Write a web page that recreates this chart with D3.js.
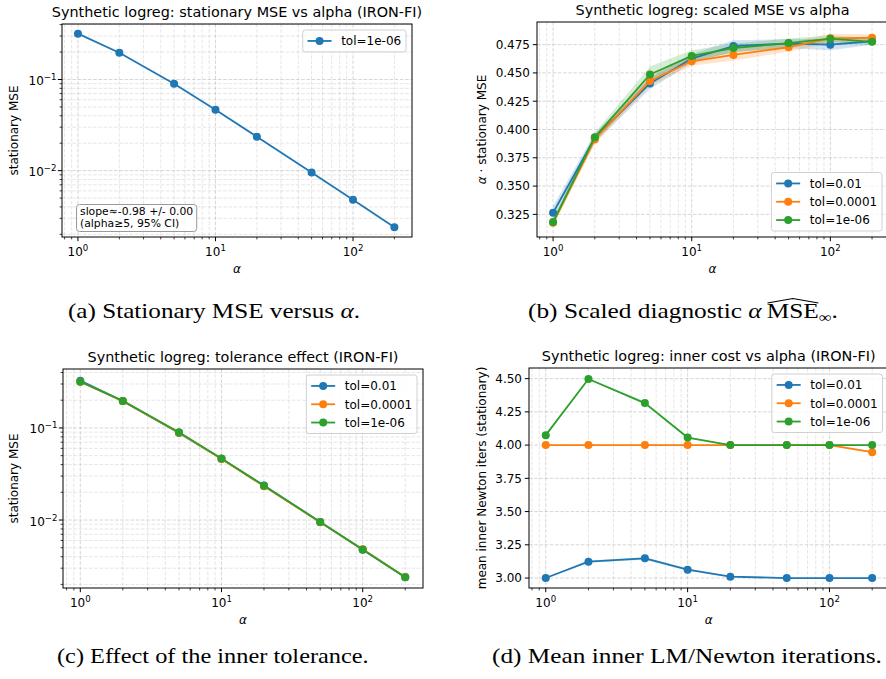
<!DOCTYPE html>
<html><head><meta charset="utf-8">
<script src="https://cdn.jsdelivr.net/npm/d3@7"></script>
<style>body{margin:0;background:#fff} svg{display:block} text{font-family:"DejaVu Sans",sans-serif;fill:#000} text.cap{font-family:"Liberation Serif","DejaVu Serif",serif}</style>
</head><body><svg id="c" width="886" height="679"></svg>
<script>
// ---------------- data ----------------
const alphas = [1, 2, 5, 10, 20, 50, 100, 200];
const tolLabels = ["tol=0.01", "tol=0.0001", "tol=1e-06"];
const colors = ["#1f77b4", "#ff7f0e", "#2ca02c"];

// (a) stationary MSE, tol=1e-06
const mseA = [0.3182, 0.1966, 0.0897, 0.0465, 0.0236, 0.00953, 0.00480, 0.00239];
const slopeText = ["slope\u2248-0.98 +/- 0.00", "(alpha\u22655, 95% CI)"];

// (b) alpha * stationary MSE, with CI half-widths
const scaled01  = [0.3264, 0.3926, 0.4407, 0.4627, 0.4738, 0.4759, 0.4750, 0.4780];
const scaled1e4 = [0.3176, 0.3912, 0.4429, 0.4603, 0.4659, 0.4727, 0.4806, 0.4811];
const scaled1e6 = [0.3182, 0.3932, 0.4486, 0.4650, 0.4720, 0.4764, 0.4803, 0.4775];
const ci01  = [0.006, 0.004, 0.005, 0.004, 0.005, 0.004, 0.005, 0.003];
const ci1e4 = [0.003, 0.004, 0.004, 0.004, 0.005, 0.004, 0.004, 0.003];
const ci1e6 = [0.003, 0.004, 0.007, 0.005, 0.004, 0.004, 0.003, 0.003];

// (c) stationary MSE per tolerance
const mse01  = [0.3264, 0.1963, 0.0881, 0.0463, 0.0237, 0.00952, 0.00475, 0.00239];
const mse1e4 = [0.3176, 0.1956, 0.0886, 0.0460, 0.0233, 0.00945, 0.00481, 0.00241];
const mse1e6 = [0.3182, 0.1966, 0.0897, 0.0465, 0.0236, 0.00953, 0.00480, 0.00239];

// (d) mean inner Newton iterations
const iters01  = [3.000, 3.123, 3.148, 3.063, 3.010, 3.000, 3.000, 3.000];
const iters1e4 = [4.000, 4.000, 4.000, 4.000, 4.000, 4.000, 4.000, 3.947];
const iters1e6 = [4.075, 4.497, 4.316, 4.057, 4.000, 4.000, 4.000, 4.000];
const iterCi01  = [0.000, 0.008, 0.010, 0.008, 0.004, 0.000, 0.000, 0.000];
const iterCi1e4 = [0.000, 0.000, 0.000, 0.000, 0.000, 0.000, 0.004, 0.008];
const iterCi1e6 = [0.006, 0.006, 0.012, 0.008, 0.003, 0.003, 0.003, 0.003];

const xMajorTicks = [1, 10, 100];
const yTicksB = [0.325, 0.350, 0.375, 0.400, 0.425, 0.450, 0.475];
const yTicksD = [3.00, 3.25, 3.50, 3.75, 4.00, 4.25, 4.50];
const yLogMajor = [0.1, 0.01];

// ---------------- drawing ----------------
const svg = d3.select("#c");
const FS = 12;

function logLabel(sel, exp, anchor, x, y) {
  const t = sel.append("text").attr("x", x).attr("y", y).attr("text-anchor", anchor).attr("font-size", FS);
  t.append("tspan").text("10");
  t.append("tspan").attr("dy", -5).attr("font-size", 8.6).text(exp < 0 ? "\u2212" + (-exp) : String(exp));
  return t;
}

function drawPanel(P) {
  const { l, t, r, b } = P.box;
  const g = svg.append("g");
  const x = d3.scaleLog().domain(P.xdom).range([l, r]);
  const y = P.ylog ? d3.scaleLog().domain(P.ydom).range([b, t]) : d3.scaleLinear().domain(P.ydom).range([b, t]);
  const cid = "clip" + P.id;
  svg.append("clipPath").attr("id", cid).append("rect").attr("x", l).attr("y", t).attr("width", r - l).attr("height", b - t);

  const inX = v => v >= P.xdom[0] && v <= P.xdom[1];
  const yLo = Math.min(P.ydom[0], P.ydom[1]), yHi = Math.max(P.ydom[0], P.ydom[1]);
  const inY = v => v >= yLo && v <= yHi;
  const xMinor = [];
  for (let e = -1; e <= 2; e++) for (let m = 2; m <= 9; m++) { const v = +(m * Math.pow(10, e)).toPrecision(3); if (inX(v)) xMinor.push(v); }
  const yMinor = [];
  if (P.ylog) for (let e = -4; e <= 0; e++) for (let m = 2; m <= 9; m++) { const v = +(m * Math.pow(10, e)).toPrecision(3); if (inY(v)) yMinor.push(v); }
  const yMajor = P.yticks.filter(inY);

  // grid
  const gg = g.append("g").attr("clip-path", `url(#${cid})`).attr("fill", "none").attr("stroke", "#b0b0b0").attr("stroke-dasharray", "3.6,1.6");
  gg.selectAll(".vm").data(xMinor).join("line").attr("x1", d => x(d)).attr("x2", d => x(d)).attr("y1", t).attr("y2", b).attr("stroke-width", 0.8).attr("stroke-opacity", 0.4);
  gg.selectAll(".hm").data(yMinor).join("line").attr("y1", d => y(d)).attr("y2", d => y(d)).attr("x1", l).attr("x2", r).attr("stroke-width", 0.8).attr("stroke-opacity", 0.4);
  gg.selectAll(".vM").data(xMajorTicks.filter(inX)).join("line").attr("x1", d => x(d)).attr("x2", d => x(d)).attr("y1", t).attr("y2", b).attr("stroke-width", 1).attr("stroke-opacity", 0.5);
  gg.selectAll(".hM").data(yMajor).join("line").attr("y1", d => y(d)).attr("y2", d => y(d)).attr("x1", l).attr("x2", r).attr("stroke-width", 1).attr("stroke-opacity", 0.5);

  // data
  const dg = g.append("g").attr("clip-path", `url(#${cid})`);
  P.series.forEach(s => {
    if (s.ci) {
      const area = d3.area().x((d, i) => x(alphas[i])).y0((d, i) => y(d - s.ci[i])).y1((d, i) => y(d + s.ci[i]));
      dg.append("path").datum(s.vals).attr("d", area).attr("fill", s.color).attr("fill-opacity", 0.2);
    }
  });
  P.series.forEach(s => {
    const line = d3.line().x((d, i) => x(alphas[i])).y(d => y(d));
    dg.append("path").datum(s.vals).attr("d", line).attr("fill", "none").attr("stroke", s.color).attr("stroke-width", 1.8).attr("stroke-linejoin", "round");
    dg.selectAll(null).data(s.vals).join("circle").attr("cx", (d, i) => x(alphas[i])).attr("cy", d => y(d)).attr("r", 4).attr("fill", s.color);
  });

  // spines
  g.append("rect").attr("x", l).attr("y", t).attr("width", r - l).attr("height", b - t).attr("fill", "none").attr("stroke", "#000").attr("stroke-width", 1);

  // ticks
  const tg = g.append("g").attr("stroke", "#000");
  tg.selectAll(".xM").data(xMajorTicks.filter(inX)).join("line").attr("x1", d => x(d)).attr("x2", d => x(d)).attr("y1", b).attr("y2", b + 4.2).attr("stroke-width", 1);
  tg.selectAll(".xm").data(xMinor).join("line").attr("x1", d => x(d)).attr("x2", d => x(d)).attr("y1", b).attr("y2", b + 2.4).attr("stroke-width", 0.75);
  tg.selectAll(".yM").data(yMajor).join("line").attr("y1", d => y(d)).attr("y2", d => y(d)).attr("x1", l - 4.2).attr("x2", l).attr("stroke-width", 1);
  tg.selectAll(".ym").data(yMinor).join("line").attr("y1", d => y(d)).attr("y2", d => y(d)).attr("x1", l - 2.4).attr("x2", l).attr("stroke-width", 0.75);

  // tick labels
  xMajorTicks.filter(inX).forEach(v => logLabel(g, Math.round(Math.log10(v)), "middle", x(v), b + 19));
  yMajor.forEach(v => {
    if (P.ylog) logLabel(g, Math.round(Math.log10(v)), "end", l - 5.5, y(v) + 5.5);
    else g.append("text").attr("x", l - 7).attr("y", y(v) + 4.3).attr("text-anchor", "end").attr("font-size", FS).text(v.toFixed(P.yfmt));
  });

  // title & labels
  g.append("text").attr("x", (l + r) / 2).attr("y", t - 7).attr("text-anchor", "middle").attr("font-size", 14.4).text(P.title);
  g.append("text").attr("x", (l + r) / 2).attr("y", b + 36).attr("text-anchor", "middle").attr("font-size", FS).attr("font-style", "italic").text("\u03b1");
  const yl = g.append("text").attr("transform", `translate(${P.ylabX},${(t + b) / 2}) rotate(-90)`).attr("text-anchor", "middle").attr("dy", "0.35em").attr("font-size", FS);
  if (P.ylabAlpha) { yl.append("tspan").attr("font-style", "italic").text("\u03b1"); yl.append("tspan").text(" \u00b7 "); }
  yl.append("tspan").text(P.ylabel);

  // legend
  const n = P.series.length;
  const lh = 9.6 + n * 12.3 + (n - 1) * 6;
  const lgTop = P.legend === "lower right" ? b - 6 - lh : t + 6;
  const lg = g.append("g");
  const frame = lg.append("rect");
  let maxW = 0;
  const tmp = [];
  P.series.forEach((s, i) => {
    const cy = lgTop + 4.8 + 6.15 + i * 18.3;
    tmp.push({ s, cy });
  });
  const texts = tmp.map(o => {
    const tx = lg.append("text").attr("y", o.cy + 4.3).attr("font-size", FS).text(o.s.label);
    maxW = Math.max(maxW, tx.node().getComputedTextLength());
    return tx;
  });
  const lw = 4.8 + 24 + 9.6 + maxW + 4.8;
  const lgL = r - 6 - lw;
  frame.attr("x", lgL).attr("y", lgTop).attr("width", lw).attr("height", lh).attr("rx", 2.5)
    .attr("fill", "#fff").attr("fill-opacity", 0.8).attr("stroke", "#d0d0d0").attr("stroke-width", 1);
  texts.forEach(tx => tx.attr("x", lgL + 4.8 + 24 + 9.6));
  tmp.forEach(o => {
    lg.append("line").attr("x1", lgL + 4.8).attr("x2", lgL + 28.8).attr("y1", o.cy).attr("y2", o.cy).attr("stroke", o.s.color).attr("stroke-width", 1.8);
    lg.append("circle").attr("cx", lgL + 16.8).attr("cy", o.cy).attr("r", 4).attr("fill", o.s.color);
  });
  return { g, x, y };
}

// (a)
const pa = drawPanel({
  id: "a", box: { l: 62, t: 24, r: 412, b: 237 }, xdom: [Math.pow(10, -0.116), Math.pow(10, 2.429)],
  ylog: true, ydom: [Math.pow(10, -2.728), Math.pow(10, -0.391)], yticks: yLogMajor,
  title: "Synthetic logreg: stationary MSE vs alpha (IRON-FI)", ylabel: "stationary MSE", ylabX: 14,
  legend: "upper right",
  series: [{ vals: mseA, color: colors[0], label: tolLabels[2] }]
});
// slope text box
{
  const tb = pa.g.append("g");
  const rect = tb.append("rect");
  const t1 = tb.append("text").attr("x", 80).attr("y", 215).attr("font-size", 10.8).text(slopeText[0]);
  const t2 = tb.append("text").attr("x", 80).attr("y", 227).attr("font-size", 10.8).text(slopeText[1]);
  const w = Math.max(t1.node().getComputedTextLength(), t2.node().getComputedTextLength());
  rect.attr("x", 76.5).attr("y", 204.5).attr("width", w + 7).attr("height", 27).attr("rx", 3)
    .attr("fill", "#fff").attr("fill-opacity", 0.75).attr("stroke", "#9a9a9a").attr("stroke-width", 1);
}
// (b)
drawPanel({
  id: "b", box: { l: 537, t: 22, r: 888, b: 237 }, xdom: [Math.pow(10, -0.116), Math.pow(10, 2.416)],
  ylog: false, ydom: [0.305, 0.495], yticks: yTicksB, yfmt: 3,
  title: "Synthetic logreg: scaled MSE vs alpha", ylabel: "stationary MSE", ylabAlpha: true, ylabX: 482,
  legend: "lower right",
  series: [
    { vals: scaled01, ci: ci01, color: colors[0], label: tolLabels[0] },
    { vals: scaled1e4, ci: ci1e4, color: colors[1], label: tolLabels[1] },
    { vals: scaled1e6, ci: ci1e6, color: colors[2], label: tolLabels[2] }]
});
// (c)
drawPanel({
  id: "c", box: { l: 63, t: 369, r: 423, b: 588 }, xdom: [Math.pow(10, -0.1225), Math.pow(10, 2.427)],
  ylog: true, ydom: [Math.pow(10, -2.738), Math.pow(10, -0.36)], yticks: yLogMajor,
  title: "Synthetic logreg: tolerance effect (IRON-FI)", ylabel: "stationary MSE", ylabX: 14,
  legend: "upper right",
  series: [
    { vals: mse01, color: colors[0], label: tolLabels[0] },
    { vals: mse1e4, color: colors[1], label: tolLabels[1] },
    { vals: mse1e6, color: colors[2], label: tolLabels[2] }]
});
// (d)
drawPanel({
  id: "d", box: { l: 529, t: 368, r: 888.5, b: 588 }, xdom: [Math.pow(10, -0.118), Math.pow(10, 2.416)],
  ylog: false, ydom: [2.925, 4.58], yticks: yTicksD, yfmt: 2,
  title: "Synthetic logreg: inner cost vs alpha (IRON-FI)", ylabel: "mean inner Newton iters (stationary)", ylabX: 482,
  legend: "upper right",
  series: [
    { vals: iters01, ci: iterCi01, color: colors[0], label: tolLabels[0] },
    { vals: iters1e4, ci: iterCi1e4, color: colors[1], label: tolLabels[1] },
    { vals: iters1e6, ci: iterCi1e6, color: colors[2], label: tolLabels[2] }]
});

// ---------------- captions ----------------
function caption(parts, x0, targetW, baseline, hatOn) {
  const g = svg.append("g");
  const t = g.append("text").attr("class", "cap").attr("x", x0).attr("y", baseline).attr("font-size", 20);
  parts.forEach(p => {
    const s = t.append("tspan").text(p.text);
    if (p.italic) s.attr("font-style", "italic");
    if (p.size) s.attr("font-size", p.size);
    if (p.dy) s.attr("dy", p.dy);
  });
  const w = t.node().getComputedTextLength();
  if (hatOn !== undefined) {
    const full = parts.map(p => p.text).join("");
    const i0 = full.indexOf(hatOn), i1 = i0 + hatOn.length - 1;
    const e0 = t.node().getExtentOfChar(i0), e1 = t.node().getExtentOfChar(i1);
    const xa = e0.x + 0.5, xb = e1.x + e1.width - 0.5, ym = baseline - 15;
    g.append("path").attr("d", `M${xa},${ym} L${(xa + xb) / 2},${ym - 4.5} L${xb},${ym}`)
      .attr("fill", "none").attr("stroke", "#000").attr("stroke-width", 1.1);
  }
  g.attr("transform", `translate(${x0},0) scale(${targetW / w},1) translate(${-x0},0)`);
}
caption([{ text: "(a) Stationary MSE versus " }, { text: "\u03b1", italic: true }, { text: "." }], 68, 292, 318);
caption([{ text: "(b) Scaled diagnostic " }, { text: "\u03b1", italic: true }, { text: "\u2009MSE" },
  { text: "\u221e", size: 14, dy: 4 }, { text: ".", dy: -4 }], 528, 310, 318, "MSE");
caption([{ text: "(c) Effect of the inner tolerance." }], 57, 312, 663);
caption([{ text: "(d) Mean inner LM/Newton iterations." }], 492, 390, 663);
</script></body></html>
